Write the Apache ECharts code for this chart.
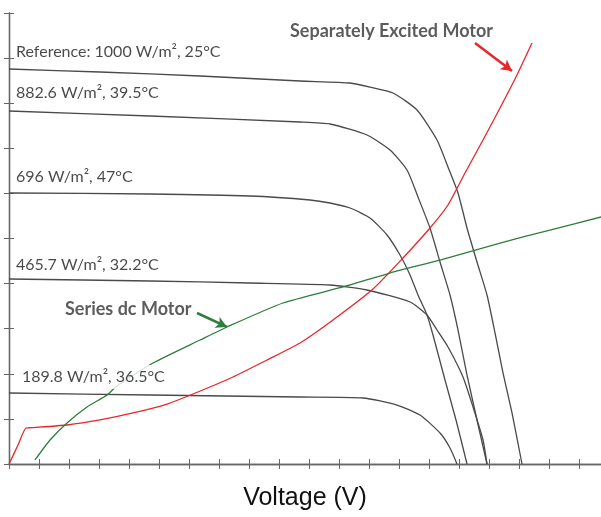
<!DOCTYPE html>
<html>
<head>
<meta charset="utf-8">
<script src="https://cdn.jsdelivr.net/npm/echarts@6/dist/echarts.min.js"></script>
<style>html,body{margin:0;padding:0;background:#fff}#c{width:601px;height:517px}</style>
</head>
<body>
<div id="c"></div>
<script>
// I-V curves (voltage, current)
const ivRef = [[0,8.758],[3.033,8.692],[6.367,8.603],[9.7,8.492],[11.367,8.448],[12.033,8.359],[12.8,8.226],[13.6,7.849],[14.267,7.184],[14.633,6.585],[14.967,6.009],[15.267,5.233],[15.6,4.479],[15.933,3.747],[16.2,2.905],[16.467,2.018],[16.767,1.131],[17.1,0]];
const iv882 = [[0,7.827],[4.7,7.716],[9.7,7.583],[10.7,7.539],[11.933,7.295],[12.7,6.962],[13.267,6.519],[13.633,5.92],[14.033,5.233],[14.367,4.479],[14.7,3.747],[14.967,2.971],[15.267,1.973],[15.6,0.976],[15.933,0]];
const iv696 = [[0,6.009],[4.7,5.987],[8.033,5.942],[10.033,5.854],[10.7,5.787],[11.367,5.676],[12.033,5.455],[12.6,5.078],[13.033,4.634],[13.367,4.191],[13.633,3.747],[13.933,3.304],[14.133,2.86],[14.533,1.863],[14.9,0.976],[15.267,0]];
const iv465 = [[0,4.102],[4.7,4.058],[8.033,4.013],[10.7,3.969],[11.933,3.858],[13.367,3.592],[13.933,3.304],[14.267,2.971],[14.633,2.594],[15.133,1.929],[15.467,1.264],[15.8,0.532],[15.933,0]];
const iv189 = [[0,1.574],[4.7,1.53],[9.7,1.486],[11.8,1.463],[12.933,1.308],[13.7,1.086],[14.367,0.687],[14.7,0.355],[14.933,0]];
// motor load lines
const sepExcited = [[0,0],[0.3,0.42],[0.567,0.798],[0.75,0.805],[1.933,0.865],[3.033,0.976],[4.133,1.131],[5.267,1.33],[6.133,1.552],[7.467,1.929],[8.6,2.306],[9.7,2.683],[10.8,3.193],[12.133,3.88],[13.133,4.568],[14.033,5.233],[14.633,5.743],[15.2,6.452],[15.8,7.184],[16.367,7.894],[16.9,8.581],[17.433,9.335]];
const seriesDc = [[0.867,0.089],[1.367,0.532],[1.933,0.909],[2.6,1.264],[3.267,1.53],[3.6,1.729],[4.8,2.239],[6.367,2.749],[7.267,3.038],[9.133,3.57],[11.133,3.925],[12.7,4.235],[14.367,4.523],[16.367,4.9],[18.033,5.188],[19.733,5.477]];
// curve labels: [x, y, text]
const curveLabels = [
  [0.233, 9.135, 'Reference: 1000 W/m², 25°C'],
  [0.233, 8.226, '882.6 W/m², 39.5°C'],
  [0.233, 6.364, '696 W/m², 47°C'],
  [0.233, 4.412, '465.7 W/m², 32.2°C']
];
const boxedLabels = [[0.3, 1.929, '189.8 W/m², 36.5°C']];
const motorLabels = [[9.367, 9.601, 'Separately Excited Motor'], [1.867, 3.437, 'Series dc Motor']];
const redArrow = [[15.533, 9.335], [16.767, 8.714]];
const greenArrow = [[6.267, 3.348], [7.267, 3.038]];
const xTitle = 'Voltage (V)';

const BLACK = '#4a4a4a', RED = '#e8262b', GREEN = '#2f7d3c', AXIS = '#666';
const chart = echarts.init(document.getElementById('c'), null, {renderer: 'canvas'});
const axisCommon = {
  type: 'value', interval: 1,
  axisLine: {show: true, lineStyle: {color: AXIS, width: 1.3}},
  axisTick: {show: true, inside: true, length: 5, lineStyle: {color: AXIS, width: 1}},
  axisLabel: {show: false}, splitLine: {show: false}
};
function ivSeries(d) {
  return {type: 'line', data: d, showSymbol: false, symbol: 'none', smooth: 0.2,
          lineStyle: {color: BLACK, width: 1.3}, z: 2, silent: true};
}
function labelSeries(d, style, extra) {
  return Object.assign({
    type: 'scatter', symbolSize: 0, z: 10, silent: true,
    data: d.map(p => ({value: [p[0], p[1]], name: p[2]})),
    label: Object.assign({show: true, position: 'right', distance: 0, formatter: p => p.name}, style)
  }, extra || {});
}
chart.setOption({
  animation: false,
  backgroundColor: '#fff',
  grid: {left: 9, top: 13, width: 592, height: 451, containLabel: false},
  xAxis: [
    Object.assign({}, axisCommon, {position: 'bottom', min: 0, max: 19.733, name: xTitle,
      nameLocation: 'middle', nameGap: 22,
      nameTextStyle: {fontFamily: 'Liberation Sans, Arial, sans-serif', fontSize: 25, color: '#111'}}),
    Object.assign({}, axisCommon, {position: 'top', min: 0, max: 19.733})
  ],
  yAxis: [
    Object.assign({}, axisCommon, {position: 'left', min: 0, max: 10}),
    Object.assign({}, axisCommon, {position: 'right', min: 0, max: 10})
  ],
  series: [
    ivSeries(ivRef), ivSeries(iv882), ivSeries(iv696), ivSeries(iv465), ivSeries(iv189),
    {type: 'line', data: sepExcited, showSymbol: false, symbol: 'none', smooth: 0.2, lineStyle: {color: RED, width: 1.3}, z: 3, silent: true,
     markLine: {silent: true, symbol: ['none', 'arrow'], symbolSize: [9, 11], label: {show: false},
       lineStyle: {color: RED, width: 2.5, type: 'solid'},
       data: [[{coord: redArrow[0]}, {coord: redArrow[1]}]]}},
    {type: 'line', data: seriesDc, showSymbol: false, symbol: 'none', smooth: 0.2, lineStyle: {color: GREEN, width: 1.3}, z: 3, silent: true,
     markLine: {silent: true, symbol: ['none', 'arrow'], symbolSize: [9, 11], label: {show: false},
       lineStyle: {color: GREEN, width: 2.5, type: 'solid'},
       data: [[{coord: greenArrow[0]}, {coord: greenArrow[1]}]]}},
    labelSeries(curveLabels, {fontFamily: 'Lato', fontSize: 16, color: '#1a1a1a'}),
    labelSeries(boxedLabels, {fontFamily: 'Lato', fontSize: 16, color: '#1a1a1a', backgroundColor: '#fff', padding: [4, 4]}),
    labelSeries(motorLabels, {fontFamily: 'Lato', fontSize: 18, fontWeight: 'bold', color: '#333'})
  ]
});
</script>
</body>
</html>
